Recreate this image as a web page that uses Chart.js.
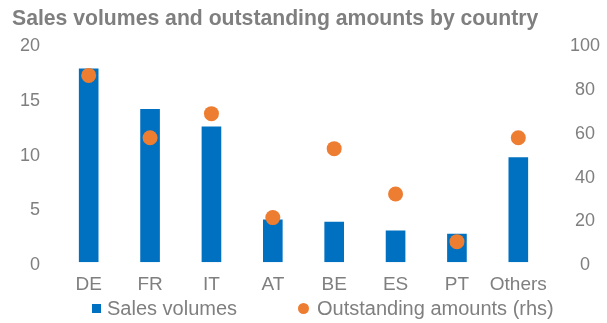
<!DOCTYPE html>
<html>
<head>
<meta charset="utf-8">
<script src="https://cdn.jsdelivr.net/npm/chart.js@4"></script>
<style>
  html, body { margin: 0; padding: 0; background: #ffffff; }
  #wrap { position: relative; width: 607px; height: 323px; overflow: hidden; }
  #chart { position: absolute; left: 0; top: 0; }
  .legend-item {
    position: absolute;
    top: 296px;
    height: 24px;
    display: flex;
    align-items: center;
    font-family: 'Liberation Sans', Arial, Helvetica, sans-serif;
    font-size: 20px;
    color: #7f7f7f;
    white-space: nowrap;
  }
  .legend-item .swatch { flex: none; }
  .legend-item .swatch.rect { width: 9px; height: 9px; margin-right: 6px; }
  .legend-item .swatch.circle { width: 11px; height: 11px; border-radius: 50%; margin-right: 8px; }
</style>
</head>
<body>
<div id="wrap">
  <canvas id="chart" width="607" height="323"></canvas>
  <div id="legend"></div>
</div>
<script>
// Countries on the category axis
const countries = ['DE', 'FR', 'IT', 'AT', 'BE', 'ES', 'PT', 'Others'];
// Sales volumes (left axis)
const salesVolumes = [17.7, 14.0, 12.4, 3.9, 3.7, 2.9, 2.6, 9.6];
// Outstanding amounts (right axis)
const outstandingAmounts = [85.4, 56.9, 67.9, 20.4, 51.9, 31.2, 9.4, 56.9];
// Axis tick values
const leftTicks = [0, 5, 10, 15, 20];
const rightTicks = [0, 20, 40, 60, 80, 100];

const BLUE = '#0070C0';
const ORANGE = '#ED7D31';
const GREY = '#7f7f7f';
const FONT = "'Liberation Sans', Arial, Helvetica, sans-serif";

Chart.defaults.font.family = FONT;
Chart.defaults.color = GREY;

const chart = new Chart(document.getElementById('chart'), {
  type: 'bar',
  data: {
    labels: countries,
    datasets: [
      {
        type: 'line',
        label: 'Outstanding amounts (rhs)',
        data: outstandingAmounts,
        yAxisID: 'y1',
        showLine: false,
        pointStyle: 'circle',
        pointRadius: 7.5,
        pointHoverRadius: 7.5,
        pointBorderWidth: 0,
        pointBackgroundColor: ORANGE,
        backgroundColor: ORANGE,
        borderColor: ORANGE,
        order: 0
      },
      {
        type: 'bar',
        label: 'Sales volumes',
        data: salesVolumes,
        yAxisID: 'y',
        backgroundColor: BLUE,
        borderWidth: 0,
        pointStyle: 'rect',
        barPercentage: 0.32,
        categoryPercentage: 1,
        order: 1
      }
    ]
  },
  options: {
    responsive: false,
    animation: false,
    layout: { padding: { left: 12, right: 0, top: 6, bottom: 16 } },
    plugins: {
      title: {
        display: true,
        text: 'Sales volumes and outstanding amounts by country',
        align: 'start',
        color: GREY,
        font: { size: 21.2, weight: 'bold', family: FONT },
        padding: { top: 0, bottom: 12 }
      },
      legend: { display: false },
      tooltip: { enabled: false }
    },
    scales: {
      x: {
        grid: { display: false, drawTicks: false },
        border: { display: false },
        ticks: { color: GREY, font: { size: 19 }, padding: 11, maxRotation: 0, autoSkip: false }
      },
      y: {
        position: 'left',
        min: 0,
        max: 20,
        afterBuildTicks: (axis) => { axis.ticks = leftTicks.map(v => ({ value: v })); },
        afterFit: (axis) => { axis.width = 46; },
        grid: { display: false, drawTicks: false },
        border: { display: false },
        ticks: { color: GREY, font: { size: 18 }, padding: 18, labelOffset: 3 }
      },
      y1: {
        position: 'right',
        min: 0,
        max: 100,
        afterBuildTicks: (axis) => { axis.ticks = rightTicks.map(v => ({ value: v })); },
        afterFit: (axis) => { axis.width = 58; },
        grid: { display: false, drawTicks: false },
        border: { display: false },
        ticks: { color: GREY, font: { size: 18 }, padding: 21, crossAlign: 'center', labelOffset: 3 }
      }
    }
  }
});

// Legend built from the chart's datasets, bar series first
const legendEl = document.getElementById('legend');
const legendLeft = { bar: 92, line: 298 };
chart.data.datasets.slice().reverse().forEach((ds) => {
  const item = document.createElement('div');
  item.className = 'legend-item';
  item.style.left = legendLeft[ds.type] + 'px';
  const sw = document.createElement('span');
  sw.className = 'swatch ' + (ds.type === 'bar' ? 'rect' : 'circle');
  sw.style.background = ds.type === 'bar' ? ds.backgroundColor : ds.pointBackgroundColor;
  const txt = document.createElement('span');
  txt.textContent = ds.label;
  item.appendChild(sw);
  item.appendChild(txt);
  legendEl.appendChild(item);
});
</script>
</body>
</html>
